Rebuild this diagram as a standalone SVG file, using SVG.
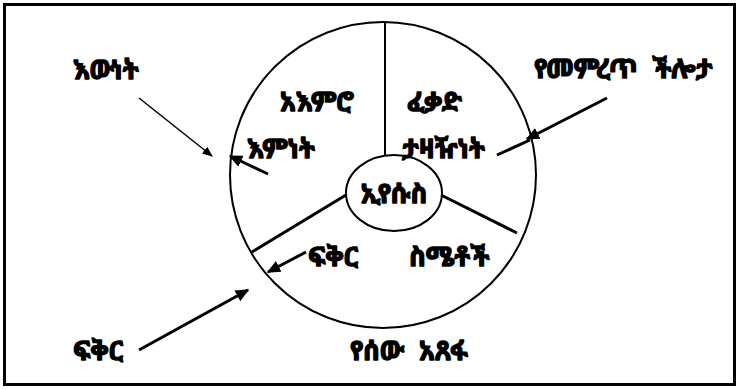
<svg xmlns="http://www.w3.org/2000/svg" width="738" height="389" viewBox="0 0 738 389">
<style>
text{font-family:"Noto Sans Ethiopic","Abyssinica SIL","Noto Serif Ethiopic","DejaVu Sans",sans-serif;font-weight:bold;font-size:26px;fill:#000;stroke:#000;stroke-width:1.3;stroke-linejoin:round}
.wide{word-spacing:8px}
.thin{stroke:#000;stroke-width:1.5;fill:none}
.thick{stroke:#000;stroke-width:3;fill:none}
.shape{stroke:#000;stroke-width:2;fill:none}
</style>
<defs>
<marker id="ah" viewBox="0 0 10 10" refX="9" refY="5" markerWidth="7" markerHeight="7" orient="auto" markerUnits="strokeWidth"><path d="M0,1 L10,5 L0,9 z" fill="#000"/></marker>
<marker id="ahb" viewBox="0 0 10 10" refX="9" refY="5" markerWidth="4.5" markerHeight="4.5" orient="auto" markerUnits="strokeWidth"><path d="M0,0.5 L10,5 L0,9.5 z" fill="#000"/></marker>
</defs>
<rect x="4.5" y="4.5" width="730" height="380" fill="#fff" stroke="#000" stroke-width="3"/>
<g id="human-response">
<circle cx="383" cy="175" r="153" class="shape"/>
<text x="409" y="360" text-anchor="middle" class="wide">የሰው አጸፋ</text>
</g>
<g id="dividers">
<line x1="385" y1="22" x2="385" y2="156" class="shape"/>
<line x1="346" y1="195" x2="252" y2="252" class="thick"/>
<line x1="441" y1="195" x2="517" y2="233" class="thick"/>
</g>
<g id="jesus">
<ellipse cx="394" cy="193" rx="48" ry="38" class="shape"/>
<text x="394" y="203" text-anchor="middle">ኢየሱስ</text>
</g>
<g id="mind"><text x="280" y="111">አእምሮ</text></g>
<g id="will"><text x="407" y="111">ፈቃድ</text></g>
<g id="faith"><text x="247" y="158">እምነት</text></g>
<g id="obedience"><text x="402" y="158">ታዛዥነት</text></g>
<g id="emotions"><text x="409" y="266">ስሜቶች</text></g>
<g id="love-inner"><text x="308" y="266">ፍቅር</text></g>
<g id="truth"><text x="73" y="79">እውነት</text></g>
<g id="choice"><text x="534" y="78" class="wide">የመምረጥ ችሎታ</text></g>
<g id="love-outer"><text x="73" y="360">ፍቅር</text></g>
<g id="connectors">
<line x1="139" y1="98" x2="212" y2="156" class="thin" marker-end="url(#ah)"/>
<line x1="268" y1="174" x2="230" y2="156" class="thick" marker-end="url(#ahb)"/>
<line x1="607" y1="98" x2="527" y2="139" class="thick" marker-end="url(#ahb)"/>
<line x1="497" y1="155" x2="530" y2="140" class="thick"/>
<line x1="306" y1="252" x2="268" y2="272" class="thick" marker-end="url(#ahb)"/>
<line x1="139" y1="350" x2="248" y2="290" class="thick" marker-end="url(#ahb)"/>
</g>
</svg>
